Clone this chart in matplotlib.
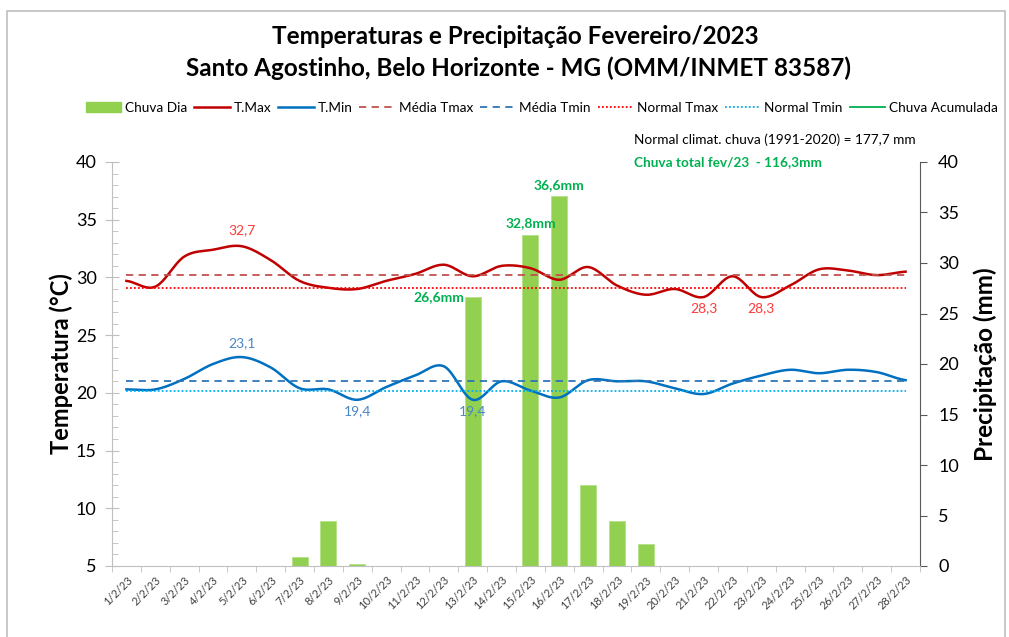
#!/usr/bin/env python3

import numpy as np
from matplotlib import pyplot as plt
from matplotlib.patches import Patch, Rectangle
from matplotlib.lines import Line2D

plt.rcParams['font.family'] = ['Lato', 'DejaVu Sans']

# dados
dias = [f'{d}/2/23' for d in range(1, 29)]
tmax = [29.7, 29.2, 31.8, 32.4, 32.7, 31.5, 29.7, 29.1, 29.0, 29.7, 30.3, 31.1, 30.1, 31.0,
        30.8, 29.8, 30.9, 29.3, 28.5, 29.0, 28.3, 30.1, 28.3, 29.3, 30.7, 30.6, 30.2, 30.5]
tmin = [20.3, 20.3, 21.2, 22.5, 23.1, 22.2, 20.4, 20.3, 19.4, 20.5, 21.5, 22.3, 19.4, 21.0,
        20.2, 19.6, 21.1, 21.0, 21.0, 20.4, 19.9, 20.8, 21.5, 22.0, 21.7, 22.0, 21.8, 21.1]
chuva = [0, 0, 0, 0, 0, 0, 0.9, 4.5, 0.2, 0, 0, 0, 26.6, 0,
         32.8, 36.6, 8.0, 4.5, 2.2, 0, 0, 0, 0, 0, 0, 0, 0, 0]
media_tmax = 30.2
media_tmin = 21.0
normal_tmax = 29.1
normal_tmin = 20.2


def suave(y, n=20):
	# curva suavizada tipo Excel (Catmull-Rom)
	y = np.asarray(y, float)
	p = np.concatenate([[y[0]], y, [y[-1]]])
	xs, ys = [], []
	for i in range(len(y) - 1):
		p0, p1, p2, p3 = p[i], p[i + 1], p[i + 2], p[i + 3]
		t = np.linspace(0, 1, n, endpoint=False)
		c1 = p1 + (p2 - p0) / 6
		c2 = p2 - (p3 - p1) / 6
		b = (1 - t) ** 3 * p1 + 3 * (1 - t) ** 2 * t * c1 + 3 * (1 - t) * t ** 2 * c2 + t ** 3 * p2
		xs.append(i + t)
		ys.append(b)
	xs.append([len(y) - 1])
	ys.append([y[-1]])
	return np.concatenate(xs), np.concatenate(ys)


def main():
	fig = plt.figure(figsize=(10.09, 6.37), dpi=100)
	fig.patches.append(Rectangle((7 / 1009, -0.01), 998 / 1009, 1 - 11 / 637 + 0.01,
	                             transform=fig.transFigure, fill=False, ec='#BFBFBF', lw=1.2))

	axT = fig.add_axes([112 / 1009, 1 - 566 / 637, 808 / 1009, 404 / 637])
	axR = axT.twinx()
	axT.set_zorder(2)
	axR.set_zorder(1)
	axT.patch.set_visible(False)

	x = np.arange(len(dias))

	# chuva
	axR.bar(x, chuva, width=0.55, color='#92D050', edgecolor='#B5E08A', linewidth=0.6)
	axR.set_ylim(0, 40)
	axR.set_yticks(range(0, 41, 5))
	for i, lab in [(12, '26,6mm'), (14, '32,8mm'), (15, '36,6mm')]:
		if i == 12:
			axR.annotate(lab, (x[i] - 0.3, chuva[i]), ha='right', va='center',
			             color='#00B050', fontsize=10, fontweight='bold')
		else:
			axR.annotate(lab, (x[i], chuva[i]), xytext=(0, 4), textcoords='offset points',
			             ha='center', va='bottom', color='#00B050', fontsize=10, fontweight='bold')

	# temperaturas
	sx, sy = suave(tmax)
	axT.plot(sx, sy, color='#C00000', lw=1.8)
	sx, sy = suave(tmin)
	axT.plot(sx, sy, color='#0070C0', lw=1.8)
	axT.plot(x, np.full(len(x), media_tmax), color='#C0504D', lw=1.3, ls=(0, (4, 3)))
	axT.plot(x, np.full(len(x), media_tmin), color='#2E75B6', lw=1.3, ls=(0, (4, 3)))
	axT.plot(x, np.full(len(x), normal_tmax), color='#FF0000', lw=1.3, ls=(0, (1, 1.2)))
	axT.plot(x, np.full(len(x), normal_tmin), color='#00B0F0', lw=1.3, ls=(0, (1, 1.2)))

	axT.annotate('32,7', (x[4], tmax[4]), xytext=(0, 7), textcoords='offset points',
	             ha='center', va='bottom', color='#FF3B3B', fontsize=10)
	axT.annotate('23,1', (x[4], tmin[4]), xytext=(0, 6), textcoords='offset points',
	             ha='center', va='bottom', color='#4A86C8', fontsize=10)
	for i in (8, 12):
		axT.annotate('19,4', (x[i], tmin[i]), xytext=(0, -4), textcoords='offset points',
		             ha='center', va='top', color='#4A86C8', fontsize=10)
	for i in (20, 22):
		axT.annotate('28,3', (x[i], tmax[i]), xytext=(0, -4), textcoords='offset points',
		             ha='center', va='top', color='#FF3B3B', fontsize=10)

	axT.set_xlim(-0.5, len(dias) - 0.5)
	axT.set_ylim(5, 40)
	axT.set_yticks(range(5, 41, 5))
	axT.set_yticks(range(5, 41), minor=True)
	axT.set_xticks(x)
	axT.set_xticklabels(dias, rotation=45, ha='right', rotation_mode='anchor',
	                    fontsize=8, color='#404040')
	axT.set_xticks(np.arange(-0.5, len(dias)), minor=True)
	axT.tick_params(axis='x', which='major', length=0, pad=6)
	axT.tick_params(axis='x', which='minor', length=4, color='#BFBFBF', direction='out')
	axT.tick_params(axis='y', which='major', length=10, direction='inout', color='#BFBFBF',
	                labelsize=13, pad=6)
	axT.tick_params(axis='y', which='minor', length=4, direction='in', color='#BFBFBF')
	axR.tick_params(axis='y', length=5, direction='out', color='#595959', labelsize=13, pad=8)

	for a in (axT, axR):
		a.spines['top'].set_visible(False)
	axT.spines['right'].set_visible(False)
	axT.spines['left'].set_color('#BFBFBF')
	axT.spines['bottom'].set_color('#BFBFBF')
	axR.spines['left'].set_visible(False)
	axR.spines['bottom'].set_visible(False)
	axR.spines['right'].set_color('#595959')

	axT.set_ylabel('Temperatura (°C)', fontsize=17, fontweight='bold', labelpad=2)
	axR.set_ylabel('Precipitação (mm)', fontsize=17.5, fontweight='bold', labelpad=10)

	fig.text(0.511, 1 - 36 / 637, 'Temperaturas e Precipitação Fevereiro/2023',
	         ha='center', va='center', fontsize=17.5, fontweight='bold')
	fig.text(0.514, 1 - 68 / 637, 'Santo Agostinho, Belo Horizonte - MG (OMM/INMET 83587)',
	         ha='center', va='center', fontsize=17.5, fontweight='bold')
	fig.text(634 / 1009, 1 - 140 / 637, 'Normal climat. chuva (1991-2020) = 177,7 mm',
	         ha='left', va='center', fontsize=9.8)
	fig.text(634 / 1009, 1 - 162 / 637, 'Chuva total fev/23  - 116,3mm',
	         ha='left', va='center', fontsize=9.8, fontweight='bold', color='#00B050')

	handles = [
		Patch(color='#92D050'),
		Line2D([], [], color='#C00000', lw=1.8),
		Line2D([], [], color='#0070C0', lw=1.8),
		Line2D([], [], color='#C0504D', lw=1.3, ls=(0, (4, 3))),
		Line2D([], [], color='#2E75B6', lw=1.3, ls=(0, (4, 3))),
		Line2D([], [], color='#FF0000', lw=1.3, ls=(0, (1, 1.2))),
		Line2D([], [], color='#00B0F0', lw=1.3, ls=(0, (1, 1.2))),
		Line2D([], [], color='#00B050', lw=1.3),
	]
	labels = ['Chuva Dia', 'T.Max', 'T.Min', 'Média Tmax', 'Média Tmin',
	          'Normal Tmax', 'Normal Tmin', 'Chuva Acumulada']
	fig.legend(handles, labels, loc='center', bbox_to_anchor=(0.537, 1 - 108 / 637), ncol=8,
	           frameon=False, fontsize=9.8, handlelength=2.6, handletextpad=0.3,
	           columnspacing=0.5, handleheight=0.8)

	fig.savefig('out.png', dpi=100)


if __name__ == '__main__':
	main()
